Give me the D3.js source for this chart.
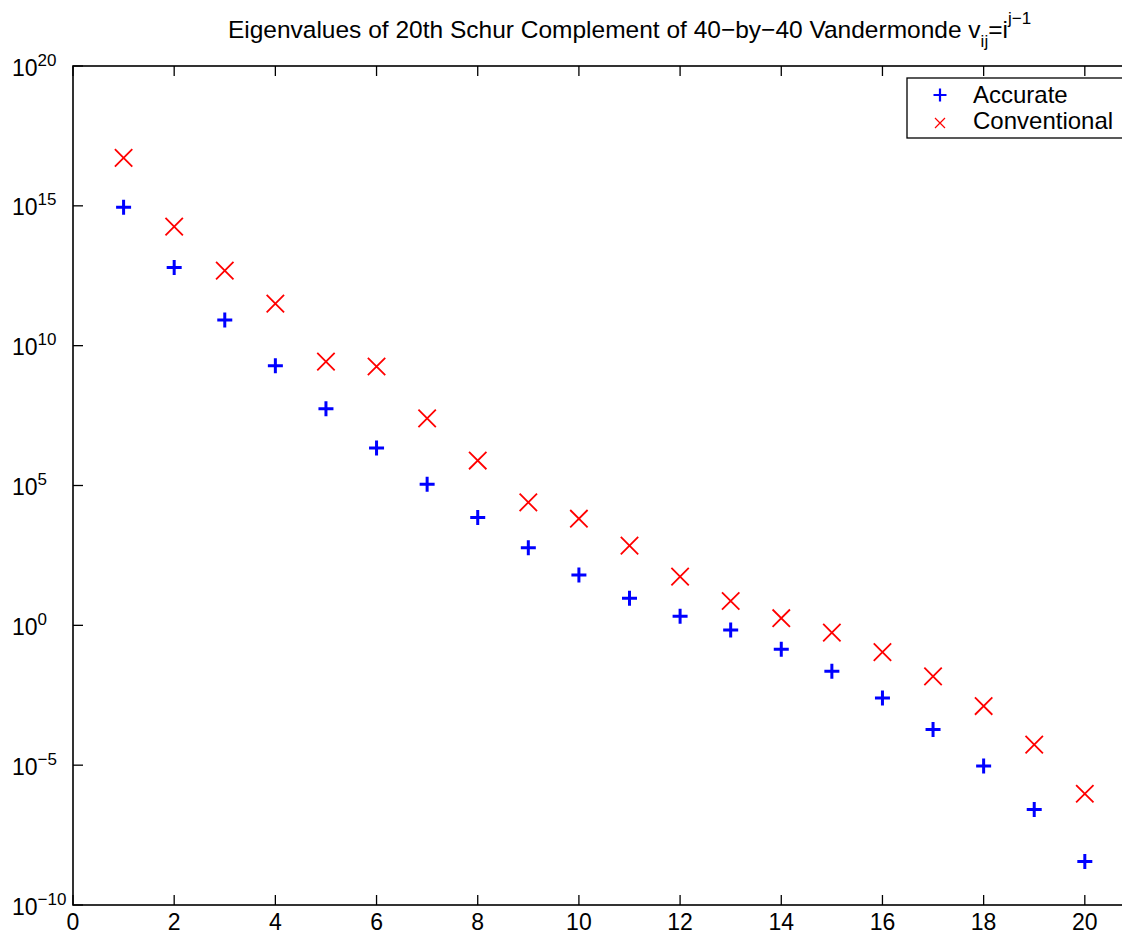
<!DOCTYPE html>
<meta charset="utf-8">
<script src="https://d3js.org/d3.v7.js"></script>
<style>
  body { margin: 0; background: #fff; }
  svg { display: block; font-family: "Liberation Sans", Arial, sans-serif; }
</style>
<body>
<div id="chart"></div>
<script>
  // eigenvalue index
  const index = [1, 2, 3, 4, 5, 6, 7, 8, 9, 10, 11, 12, 13, 14, 15, 16, 17, 18, 19, 20];
  // accurate eigenvalues
  const accurate = [8.9e14, 6.2e12, 8.3e10, 1.9e9, 5.5e7, 2.2e6, 1.1e5, 7.2e3, 6.0e2, 63,
                    9.3, 2.1, 0.68, 0.14, 0.023, 2.5e-3, 1.9e-4, 9.3e-6, 2.6e-7, 3.6e-9];
  // conventional eigenvalues
  const conventional = [5.2e16, 1.8e14, 4.8e12, 3.2e11, 2.7e9, 1.8e9, 2.5e7, 7.8e5, 2.5e4, 6.5e3,
                        7.1e2, 55, 7.4, 1.8, 0.55, 0.11, 0.015, 1.3e-3, 5.4e-5, 9.5e-7];
  const xTickValues = [0, 2, 4, 6, 8, 10, 12, 14, 16, 18, 20, 22];
  const xTickLabels = [0, 2, 4, 6, 8, 10, 12, 14, 16, 18, 20]; // 22 falls outside the window
  const yTickExponents = [-10, -5, 0, 5, 10, 15, 20];

  const width = 1122, height = 935;
  const margin = {left: 73, top: 66, bottom: 30};
  const plotRight = 1186; // axes box runs past the window edge

  const svg = d3.select("#chart").append("svg")
      .attr("width", width)
      .attr("height", height);

  const x = d3.scaleLinear().domain([0, 22]).range([margin.left, plotRight]);
  const y = d3.scaleLog().domain([1e-10, 1e20]).range([height - margin.bottom, margin.top]);

  const y0 = y.range()[0], y1 = y.range()[1];
  const tickLen = 10;

  // ticks (inward, on all sides)
  const ax = svg.append("g").attr("stroke", "#000").attr("stroke-width", 1.3);
  xTickValues.forEach(v => {
    ax.append("line").attr("x1", x(v)).attr("x2", x(v)).attr("y1", y0).attr("y2", y0 - tickLen);
    ax.append("line").attr("x1", x(v)).attr("x2", x(v)).attr("y1", y1).attr("y2", y1 + tickLen);
  });
  yTickExponents.forEach(e => {
    const v = Math.pow(10, e);
    ax.append("line").attr("x1", x(0)).attr("x2", x(0) + tickLen).attr("y1", y(v)).attr("y2", y(v));
    ax.append("line").attr("x1", plotRight).attr("x2", plotRight - tickLen).attr("y1", y(v)).attr("y2", y(v));
  });
  ax.append("rect")
      .attr("x", x(0)).attr("y", y1)
      .attr("width", plotRight - x(0)).attr("height", y0 - y1)
      .attr("fill", "none").attr("stroke-width", 1.6);

  // x tick labels
  svg.append("g").selectAll("text")
    .data(xTickLabels)
    .join("text")
      .attr("x", d => x(d))
      .attr("y", y0 + 25)
      .attr("text-anchor", "middle")
      .style("font-size", "23px")
      .text(d => d);

  // y tick labels 10^n
  const yl = svg.append("g").selectAll("text")
    .data(yTickExponents)
    .join("text")
      .attr("x", 12)
      .attr("y", d => y(Math.pow(10, d)) + 9.5)
      .style("font-size", "23px");
  yl.append("tspan").text("10");
  yl.append("tspan")
      .attr("dy", -10)
      .style("font-size", "17px")
      .text(d => String(d).replace("-", "\u2212"));

  // title
  const title = svg.append("text")
      .attr("x", (x(0) + plotRight) / 2)
      .attr("y", 38)
      .attr("text-anchor", "middle")
      .style("font-size", "24.5px");
  title.append("tspan").text("Eigenvalues of 20th Schur Complement of 40\u2212by\u221240 Vandermonde v");
  title.append("tspan").attr("dy", 9).style("font-size", "17px").text("ij");
  title.append("tspan").attr("dy", -9).text("=i");
  title.append("tspan").attr("dy", -14).style("font-size", "17px").text("j\u22121");

  // markers
  const plus = (cx, cy, r) => `M${cx - r},${cy}H${cx + r}M${cx},${cy - r}V${cy + r}`;
  const cross = (cx, cy, r) => `M${cx - r},${cy - r}L${cx + r},${cy + r}M${cx - r},${cy + r}L${cx + r},${cy - r}`;

  svg.append("g").selectAll("path")
    .data(index)
    .join("path")
      .attr("d", (d, i) => plus(x(d), y(accurate[i]), 7.5))
      .attr("stroke", "#0000ff")
      .attr("stroke-width", 3)
      .attr("fill", "none");

  svg.append("g").selectAll("path")
    .data(index)
    .join("path")
      .attr("d", (d, i) => cross(x(d), y(conventional[i]), 8.7))
      .attr("stroke", "#ff0000")
      .attr("stroke-width", 1.8)
      .attr("fill", "none");

  // legend
  const lg = svg.append("g");
  lg.append("rect")
      .attr("x", 907).attr("y", 78)
      .attr("width", 230).attr("height", 60)
      .attr("fill", "#fff").attr("stroke", "#000").attr("stroke-width", 1.3);
  lg.append("path").attr("d", plus(940, 95, 6.5))
      .attr("stroke", "#0000ff").attr("stroke-width", 2.2).attr("fill", "none");
  lg.append("path").attr("d", cross(940, 123, 5))
      .attr("stroke", "#ff0000").attr("stroke-width", 1.2).attr("fill", "none");
  lg.append("text").attr("x", 973).attr("y", 103).style("font-size", "24px").text("Accurate");
  lg.append("text").attr("x", 973).attr("y", 129).style("font-size", "24px").text("Conventional");
</script>
</body>
